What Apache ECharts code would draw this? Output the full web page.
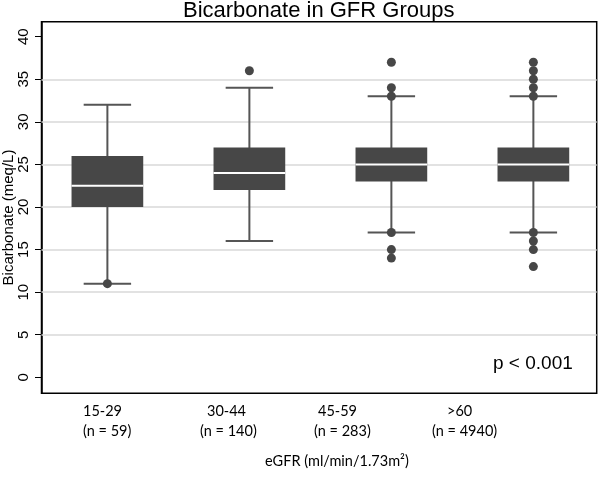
<!DOCTYPE html>
<html><head><meta charset="utf-8">
<script src="https://cdn.jsdelivr.net/npm/echarts@6/dist/echarts.min.js"></script>
<style>html,body{margin:0;padding:0;background:#fff}#c{width:600px;height:478px}</style>
</head><body><div id="c"></div>
<script>
const categories = ['15-29', '30-44', '45-59', '>60'];
const counts = [59, 140, 283, 4940];
const whiskerLow = [11, 16, 17, 17];
const q1 = [20, 22, 23, 23];
const medians = [22.5, 24, 25, 25];
const q3 = [26, 27, 27, 27];
const whiskerHigh = [32, 34, 33, 33];
const outliers = [[11], [36], [14, 15, 17, 33, 34, 37], [13, 15, 16, 17, 33, 34, 35, 36, 37]];
const yTicks = [0, 5, 10, 15, 20, 25, 30, 35, 40];
const gridValues = [5, 10, 15, 20, 25, 30, 35];
const pText = 'p < 0.001';
const xTitle = 'eGFR (ml/min/1.73m\u00B2)';

const boxData = categories.map((c, i) => [i, whiskerLow[i], q1[i], medians[i], q3[i], whiskerHigh[i]]);
const outlierData = [];
outliers.forEach((arr, i) => arr.forEach(v => outlierData.push([i, v])));

function renderBox(params, api) {
  const x = api.value(0);
  const lo = api.coord([x, api.value(1)]);
  const b1 = api.coord([x, api.value(2)]);
  const md = api.coord([x, api.value(3)]);
  const b3 = api.coord([x, api.value(4)]);
  const hi = api.coord([x, api.value(5)]);
  const bw = api.size([0.505, 0])[0];
  const cw = api.size([0.334, 0])[0];
  const ls = { stroke: '#555555', lineWidth: 2 };
  return {
    type: 'group', children: [
      { type: 'line', shape: { x1: lo[0], y1: lo[1], x2: hi[0], y2: hi[1] }, style: ls },
      { type: 'line', shape: { x1: lo[0] - cw / 2, y1: lo[1], x2: lo[0] + cw / 2, y2: lo[1] }, style: ls },
      { type: 'line', shape: { x1: hi[0] - cw / 2, y1: hi[1], x2: hi[0] + cw / 2, y2: hi[1] }, style: ls },
      { type: 'rect', shape: { x: b3[0] - bw / 2, y: b3[1], width: bw, height: b1[1] - b3[1] }, style: { fill: '#474747' } },
      { type: 'line', shape: { x1: md[0] - bw / 2, y1: md[1], x2: md[0] + bw / 2, y2: md[1] }, style: { stroke: '#ffffff', lineWidth: 2 } }
    ]
  };
}

const labelFont = 'Lato, "Open Sans", sans-serif';
const line1Left = [83, 207, 318, 447];
const line2Left = [83, 200, 314, 432];
const graphics = [];
categories.forEach((c, i) => {
  graphics.push({ type: 'text', left: line1Left[i], top: 404, style: { text: c, font: '14.5px ' + labelFont, fill: '#000' } });
  graphics.push({ type: 'text', left: line2Left[i], top: 424, style: { text: '(n = ' + counts[i] + ')', font: '14.5px ' + labelFont, fill: '#000' } });
});
graphics.push({ type: 'text', left: 265, top: 454, style: { text: xTitle, font: '14.5px ' + labelFont, fill: '#000' } });
graphics.push({ type: 'text', left: 493, top: 354, style: { text: pText, font: '19px "Liberation Sans", Arial, sans-serif', fill: '#000' } });

const chart = echarts.init(document.getElementById('c'));
chart.setOption({
  animation: false,
  backgroundColor: '#fff',
  title: {
    text: 'Bicarbonate in GFR Groups', left: 178, top: -5,
    textStyle: { fontFamily: '"Liberation Sans", Arial, sans-serif', fontSize: 22, fontWeight: 'normal', color: '#000' }
  },
  grid: { left: 41.5, top: 21.7, right: 3.3, bottom: 84.7, outerBoundsMode: 'none', containLabel: false, show: true, borderColor: '#000', borderWidth: 1.5, backgroundColor: '#fff' },
  xAxis: {
    type: 'value', min: -0.464, max: 3.446,
    axisLine: { show: false, onZero: false }, axisTick: { show: false }, axisLabel: { show: false }, splitLine: { show: false }
  },
  yAxis: {
    type: 'value', min: -1.88, max: 41.76,
    splitLine: { show: false },
    axisLine: { show: true, onZero: false, lineStyle: { color: '#000', width: 1.5 } },
    axisTick: { show: true, length: 6.5, customValues: yTicks, lineStyle: { color: '#000', width: 1 } },
    axisLabel: { customValues: yTicks, rotate: 90, fontSize: 15, color: '#000', fontFamily: '"Liberation Sans", Arial, sans-serif', margin: 10 },
    name: 'Bicarbonate (meq/L)', nameLocation: 'middle', nameGap: 25, nameMoveOverlap: false,
    nameTextStyle: { fontSize: 15, color: '#000', fontFamily: '"Liberation Sans", Arial, sans-serif', padding: [0, 20, 0, 0] }
  },
  graphic: graphics,
  series: [
    {
      type: 'line', data: [], z: 1, silent: true,
      markLine: {
        z: 1, silent: true, symbol: 'none', label: { show: false },
        lineStyle: { color: '#d9d9d9', width: 1.5, type: 'solid' },
        data: gridValues.map(v => ({ yAxis: v }))
      }
    },
    { type: 'custom', renderItem: renderBox, data: boxData, z: 10 },
    { type: 'scatter', data: outlierData, symbolSize: 9, itemStyle: { color: '#474747', opacity: 1 }, z: 11 }
  ]
});
</script></body></html>
